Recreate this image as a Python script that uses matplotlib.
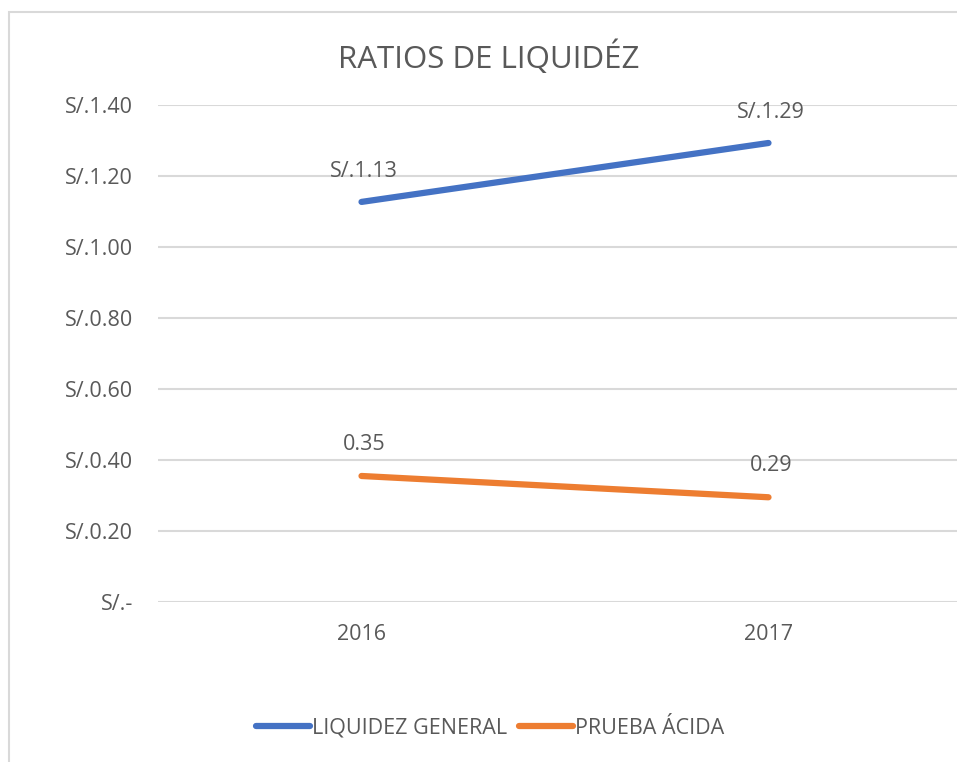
import matplotlib
matplotlib.use("Agg")
import matplotlib.pyplot as plt
from matplotlib.patches import Rectangle

years = ["2016", "2017"]
liquidez_general = [1.127, 1.293]
prueba_acida = [0.355, 0.295]
general_labels = ["S/.1.13", "S/.1.29"]
acida_labels = ["0.35", "0.29"]
y_ticks = [0.0, 0.2, 0.4, 0.6, 0.8, 1.0, 1.2, 1.4]
y_tick_labels = ["S/.-", "S/.0.20", "S/.0.40", "S/.0.60", "S/.0.80", "S/.1.00", "S/.1.20", "S/.1.40"]

plt.rcParams['font.family'] = ['Open Sans', 'DejaVu Sans']
gray = "#595959"
blue = "#4472C4"
orange = "#ED7D31"
fs = 15.5

fig = plt.figure(figsize=(9.57, 7.62), dpi=100)
# chart border (cropped on right and bottom in the reference)
fig.add_artist(Rectangle((9 / 957, -0.05), 1.1, 1.05 - 12 / 762, transform=fig.transFigure,
                         fill=False, edgecolor="#D9D9D9", linewidth=1.5))

ax = fig.add_axes([158 / 957, 1 - 602 / 762, 814 / 957, 497 / 762])
x = range(len(years))
ax.plot(x, liquidez_general, color=blue, linewidth=4.5, solid_capstyle="round", label="LIQUIDEZ GENERAL")
ax.plot(x, prueba_acida, color=orange, linewidth=4.5, solid_capstyle="round", label="PRUEBA ÁCIDA")

for i, (v, t) in enumerate(zip(liquidez_general, general_labels)):
    ax.annotate(t, (i, v), xytext=(2, 22), textcoords="offset points", ha="center", va="center",
                fontsize=fs, color=gray)
for i, (v, t) in enumerate(zip(prueba_acida, acida_labels)):
    ax.annotate(t, (i, v), xytext=(2, 23), textcoords="offset points", ha="center", va="center",
                fontsize=fs, color=gray)

ax.set_xlim(-0.5, 1.5)
ax.set_ylim(0, 1.4)
ax.set_xticks(list(x))
ax.set_xticklabels(years, fontsize=fs, color=gray)
ax.set_yticks(y_ticks)
ax.set_yticklabels(y_tick_labels, fontsize=fs, color=gray)
ax.tick_params(length=0)
ax.tick_params(axis="y", pad=18)
ax.tick_params(axis="x", pad=16)
ax.grid(axis="y", color="#D9D9D9", linewidth=1.5)
ax.set_axisbelow(True)
for s in ax.spines.values():
    s.set_visible(False)

fig.text(489 / 957, 1 - 58 / 762, "RATIOS DE LIQUIDÉZ", ha="center", va="center", fontsize=22.5, color=gray)

fig.legend(loc="center", bbox_to_anchor=(490 / 957, 1 - 728 / 762), ncol=2, frameon=False,
           fontsize=fs, labelcolor=gray, handlelength=2.5, columnspacing=0.55, handletextpad=0.1)

fig.savefig("out.png", dpi=100)
